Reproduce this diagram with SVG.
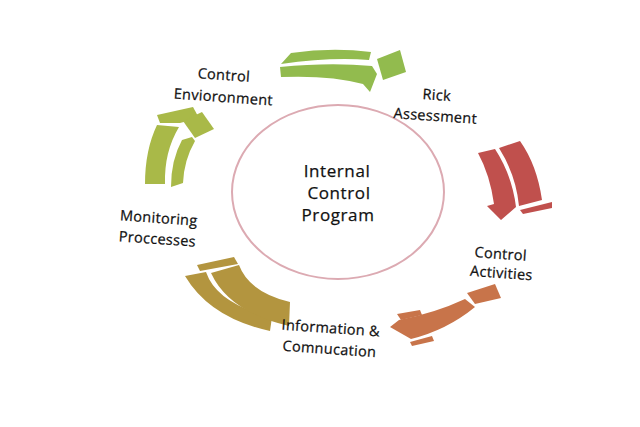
<svg xmlns="http://www.w3.org/2000/svg" width="640" height="427" viewBox="0 0 640 427">
<style>
.lbl{font-family:"Open Sans","Liberation Sans",sans-serif;font-size:14.5px;fill:#111;stroke:#111;stroke-width:0.25px;text-anchor:middle;letter-spacing:0.3px}
.ctr{font-family:"Open Sans","Liberation Sans",sans-serif;font-size:17px;fill:#111;stroke:#111;stroke-width:0.25px;text-anchor:middle;letter-spacing:0.6px}
.g{fill:#92bb4e}.r{fill:#c0504d}.o{fill:#c8744a}.y{fill:#b3953f}.v{fill:#a9b948}
</style>
<rect width="640" height="427" fill="#ffffff"/>
<g id="center">
<ellipse cx="338" cy="192" rx="106" ry="87" fill="none" stroke="#dcaab2" stroke-width="2"/>
<text class="ctr" x="337" y="177">Internal</text>
<text class="ctr" x="339" y="199">Control</text>
<text class="ctr" x="338" y="221">Program</text>
</g>
<g id="connectors">
<g id="arrow-top">
<path class="g" d="M291 53 Q332 47 371 52 L369 60 Q330 57 281 64 Z"/>
<path class="g" d="M280 67 Q330 62 372 66 L377 74 L370 92 L363 84 Q330 75 281 77 Z"/>
<path class="g" d="M377 59 L400 50 L406 72 L383 80 Z"/>
</g>
<g id="arrow-right">
<path class="r" d="M478 153 L495 149 Q512 175 516 207 L501 220 L487 206 L494 204 Q490 175 478 153 Z"/>
<path class="r" d="M499 148 L520 141 Q537 165 542 200 L519 206 Q516 175 499 148 Z"/>
<path class="r" d="M520 210 L552 202 L552 208 L523 214 Z"/>
</g>
<g id="arrow-bottom">
<path class="o" d="M467 293 L495 284 L501 298 L475 304 Z"/>
<path class="o" d="M465 299 L475 307 Q447 330 411 339 L390 327 L399 320 Q435 313 465 299 Z"/>
<path class="o" d="M397 314 L420 310 L422 315 L401 320 Z"/>
<path class="o" d="M410 342 L432 336 L434 341 L412 346 Z"/>
</g>
<g id="arrow-left">
<path class="y" d="M197 265 L234 257 L238 264 L200 271 Z"/>
<path class="y" d="M185 276 L206 272 Q217 304 272 317 L270 331 Q210 318 185 276 Z"/>
<path class="y" d="M211 273 L239 265 Q249 292 290 302 L289 326 Q229 312 211 273 Z"/>
</g>
<g id="arrow-upleft">
<path class="v" d="M157 115 L193 107 L199 118 L180 123 L160 123 Z"/>
<path class="v" d="M183 121 L202 112 L214 129 L195 138 Z"/>
<path class="v" d="M157 125 L179 127 Q164 152 165 184 L145 184 Q145 150 157 125 Z"/>
<path class="v" d="M182 140 L192 137 L195 141 Q184 160 183 183 L171 187 Q171 160 182 140 Z"/>
</g>
</g>
<g id="n-control-env" transform="rotate(4 223 87)">
<text class="lbl" x="223" y="80">Control</text>
<text class="lbl" x="224" y="102">Envioronment</text>
</g>
<g id="n-risk" transform="rotate(4 436 106)">
<text class="lbl" x="436" y="100">Rick</text>
<text class="lbl" x="436" y="121">Assessment</text>
</g>
<g id="n-control-act" transform="rotate(4 501 264)">
<text class="lbl" x="500" y="259">Control</text>
<text class="lbl" x="502" y="278">Activities</text>
</g>
<g id="n-info" transform="rotate(4 330 340)">
<text class="lbl" x="330" y="333">Information &amp;</text>
<text class="lbl" x="330" y="354">Comnucation</text>
</g>
<g id="n-monitor" transform="rotate(4 158 230)">
<text class="lbl" x="158" y="223">Monitoring</text>
<text class="lbl" x="158" y="244">Proccesses</text>
</g>
</svg>
